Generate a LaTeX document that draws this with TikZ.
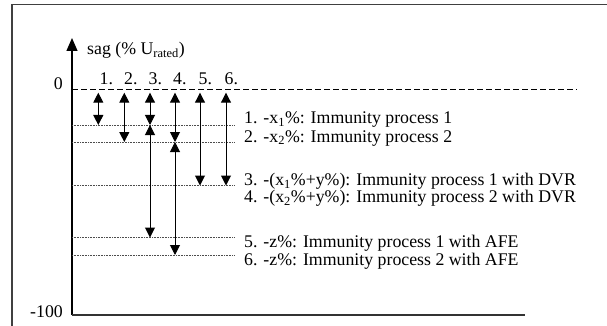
\documentclass[tikz,border=0pt]{standalone}
\usepackage{fontspec}
\setmainfont{Liberation Serif}
\usetikzlibrary{arrows.meta}
\tikzset{>={Triangle[length=10pt,width=10pt]}}
\tikzstyle{sagarr} = [<->, line width=1pt]
\tikzstyle{lvl} = [-, line width=0.5pt, dash pattern=on 0.8pt off 0.8pt, black!70]
\tikzstyle{lbl} = [draw=none, inner sep=0, anchor=base west]

\begin{document}
\begin{tikzpicture}[x=1pt, y=-1pt, font=\fontsize{17.8}{20}\selectfont]
\useasboundingbox (0,0) rectangle (607,326);
% frame
\draw [line width=1.3pt, black!75] (12,326) -- (12,4.3) -- (607,4.3);
% axes
\coordinate (O) at (72,315);
\coordinate (Ytop) at (72,38);
\coordinate (Xend) at (525,315);
\draw [-{Triangle[length=13pt,width=11pt]}, line width=1.2pt] (O) to (Ytop);
\draw [line width=1.4pt, black!80] (O) to (Xend);
\node [lbl] (sag) at (87,55) {sag (\% U\textsubscript{rated})};
\node [draw=none, inner sep=0, anchor=base east] (zero) at (63,90) {0};
\node [draw=none, inner sep=0, anchor=base east] (hundred) at (63,317) {-100};
% zero line
\coordinate (Z) at (72,89.3);
\coordinate (Zend) at (577,89.3);
\draw [-, line width=0.8pt, dash pattern=on 6pt off 3pt] (Z) to (Zend);
% levels
\coordinate (X1) at (72,125);   \coordinate (X1e) at (235,125);
\coordinate (X2) at (72,142);   \coordinate (X2e) at (235,142);
\coordinate (XY) at (72,185.5); \coordinate (XYe) at (235,185.5);
\coordinate (Z1) at (72,237.5); \coordinate (Z1e) at (235,237.5);
\coordinate (Z2) at (72,255);   \coordinate (Z2e) at (235,255);
\draw [lvl] (X1) to (X1e);
\draw [lvl] (X2) to (X2e);
\draw [lvl] (XY) to (XYe);
\draw [lvl] (Z1) to (Z1e);
\draw [lvl] (Z2) to (Z2e);
% column numbers
\node [lbl] (n1) at (99.5,85) {1.};
\node [lbl] (n2) at (124,85) {2.};
\node [lbl] (n3) at (148.5,85) {3.};
\node [lbl] (n4) at (173,85) {4.};
\node [lbl] (n5) at (198.5,85) {5.};
\node [lbl] (n6) at (224.5,85) {6.};
% sag arrows
\coordinate (a1) at (98.3,92.7);  \coordinate (b1) at (98.3,125);
\coordinate (a2) at (124.3,92.7); \coordinate (b2) at (124.3,142);
\coordinate (a3) at (150,92.7);   \coordinate (b3) at (150,125);   \coordinate (c3) at (150,237.5);
\coordinate (a4) at (175,92.7);   \coordinate (b4) at (175,142);   \coordinate (c4) at (175,255);
\coordinate (a5) at (200,92.7);   \coordinate (b5) at (200,185.5);
\coordinate (a6) at (226,92.7);   \coordinate (b6) at (226,185.5);
\draw [sagarr] (a1) to (b1);
\draw [sagarr] (a2) to (b2);
\draw [sagarr] (a3) to (b3);
\draw [sagarr] (b3) to (c3);
\draw [sagarr] (a4) to (b4);
\draw [sagarr] (b4) to (c4);
\draw [sagarr] (a5) to (b5);
\draw [sagarr] (a6) to (b6);
% legend
\node [lbl] (l1) at (244,124) {1. -x\textsubscript{1}\%: Immunity process 1};
\node [lbl] (l2) at (244,142) {2. -x\textsubscript{2}\%: Immunity process 2};
\node [lbl] (l3) at (244,185.5) {3. -(x\textsubscript{1}\%+y\%): Immunity process 1 with DVR};
\node [lbl] (l4) at (244,202.5) {4. -(x\textsubscript{2}\%+y\%): Immunity process 2 with DVR};
\node [lbl] (l5) at (244,247) {5. -z\%: Immunity process 1 with AFE};
\node [lbl] (l6) at (244,265) {6. -z\%: Immunity process 2 with AFE};
\end{tikzpicture}
\end{document}
